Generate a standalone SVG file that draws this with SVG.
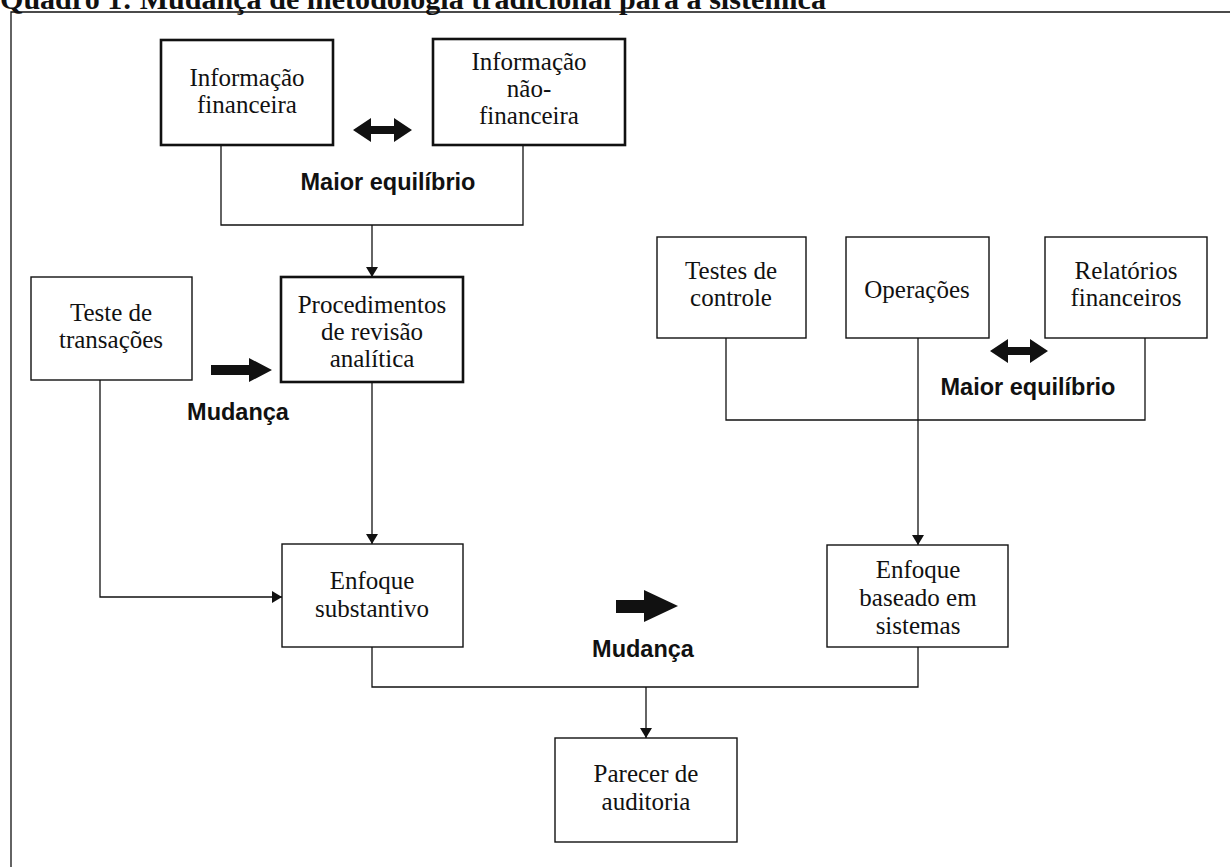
<svg xmlns="http://www.w3.org/2000/svg" width="1230" height="867" viewBox="0 0 1230 867">
<style>
.box{fill:#fff;stroke:#111;stroke-width:1.4}
.thick{fill:#fff;stroke:#111;stroke-width:2.6}
.t{font-family:"Liberation Serif","Times New Roman",serif;font-size:25px;fill:#111;text-anchor:middle}
.b{font-family:"Liberation Sans",Arial,sans-serif;font-weight:bold;font-size:23.5px;fill:#111;text-anchor:middle}
.ln{fill:none;stroke:#111;stroke-width:1.3}
.big{fill:#111}
</style>
<defs>
<marker id="ah" viewBox="0 0 10 12" refX="10" refY="6" markerWidth="10" markerHeight="12" markerUnits="userSpaceOnUse" orient="auto">
<path d="M0,0 L10,6 L0,12 Z" fill="#111"/>
</marker>
</defs>
<rect width="1230" height="867" fill="#fff"/>
<text x="0" y="9" font-family="Liberation Serif,serif" font-weight="bold" font-size="30" fill="#111" textLength="826" lengthAdjust="spacingAndGlyphs">Quadro 1: Mudança de metodologia tradicional para a sistêmica</text>
<g id="frame">
<path class="ln" d="M11,867 V12 H1230"/>
</g>
<g id="connectors">
<path class="ln" d="M221,145 V225 H523 V145"/>
<path class="ln" d="M372,225 V277" marker-end="url(#ah)"/>
<path class="ln" d="M372,382 V544" marker-end="url(#ah)"/>
<path class="ln" d="M100,380 V597 H282" marker-end="url(#ah)"/>
<path class="ln" d="M726,338 V420 H1145 V338"/>
<path class="ln" d="M918,338 V545" marker-end="url(#ah)"/>
<path class="ln" d="M372,647 V687 H918 V647"/>
<path class="ln" d="M646,687 V738" marker-end="url(#ah)"/>
</g>
<g id="n-info-fin">
<rect class="thick" x="161" y="40" width="172" height="105"/>
<text class="t" x="247" y="86">Informação</text>
<text class="t" x="247" y="113">financeira</text>
</g>
<g id="n-info-nfin">
<rect class="thick" x="433" y="39" width="192" height="106"/>
<text class="t" x="529" y="70">Informação</text>
<text class="t" x="529" y="97">não-</text>
<text class="t" x="529" y="124">financeira</text>
</g>
<g id="balance1">
<polygon class="big" points="353,130 371,118 371,126 394,126 394,118 412,130 394,142 394,134 371,134 371,142"/>
<text class="b" x="388" y="190">Maior equilíbrio</text>
</g>
<g id="n-teste">
<rect class="box" x="31" y="277" width="161" height="103"/>
<text class="t" x="111" y="321">Teste de</text>
<text class="t" x="111" y="348">transações</text>
</g>
<g id="n-proc">
<rect class="thick" x="281" y="277" width="182" height="105"/>
<text class="t" x="372" y="313">Procedimentos</text>
<text class="t" x="372" y="340">de revisão</text>
<text class="t" x="372" y="367">analítica</text>
</g>
<g id="change1">
<polygon class="big" points="211,365 249,365 249,358 272,370 249,382 249,375 211,375"/>
<text class="b" x="238" y="420">Mudança</text>
</g>
<g id="n-testes-ctrl">
<rect class="box" x="657" y="237" width="149" height="101"/>
<text class="t" x="731" y="279">Testes de</text>
<text class="t" x="731" y="306">controle</text>
</g>
<g id="n-oper">
<rect class="box" x="846" y="237" width="143" height="101"/>
<text class="t" x="917" y="298">Operações</text>
</g>
<g id="n-relat">
<rect class="box" x="1045" y="237" width="162" height="101"/>
<text class="t" x="1126" y="279">Relatórios</text>
<text class="t" x="1126" y="306">financeiros</text>
</g>
<g id="balance2">
<polygon class="big" points="990,351 1008,339 1008,347 1030,347 1030,339 1048,351 1030,363 1030,355 1008,355 1008,363"/>
<text class="b" x="1028" y="395">Maior equilíbrio</text>
</g>
<g id="n-enf-sub">
<rect class="box" x="282" y="544" width="181" height="103"/>
<text class="t" x="372" y="589">Enfoque</text>
<text class="t" x="372" y="617">substantivo</text>
</g>
<g id="change2">
<polygon class="big" points="616,600 644,600 644,590 678,606 644,622 644,613 616,613"/>
<text class="b" x="643" y="657">Mudança</text>
</g>
<g id="n-enf-sis">
<rect class="box" x="827" y="545" width="181" height="102"/>
<text class="t" x="918" y="578">Enfoque</text>
<text class="t" x="918" y="606">baseado em</text>
<text class="t" x="918" y="634">sistemas</text>
</g>
<g id="n-parecer">
<rect class="box" x="555" y="738" width="182" height="104"/>
<text class="t" x="646" y="782">Parecer de</text>
<text class="t" x="646" y="810">auditoria</text>
</g>
</svg>
